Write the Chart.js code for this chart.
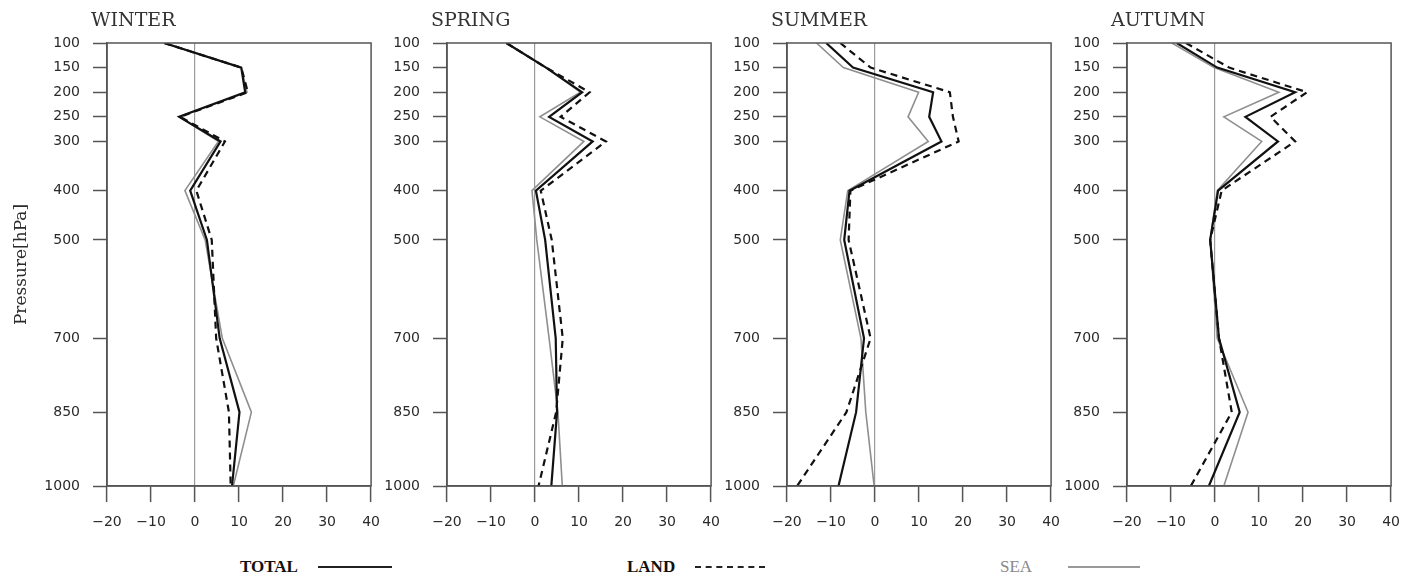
<!DOCTYPE html>
<html>
<head>
<meta charset="utf-8">
<script src="https://cdn.jsdelivr.net/npm/chart.js@4.4.0/dist/chart.umd.min.js"></script>
<style>
  html, body { margin: 0; padding: 0; background: #fff; }
  #wrap { position: relative; width: 1419px; height: 588px; overflow: hidden; background: #fff; }
  canvas.panel { position: absolute; top: 0; }
  .season { position: absolute; top: 7px; line-height: 24px; font-family: "DejaVu Serif", serif; font-size: 19px; color: #333; white-space: nowrap; }
  .lg-text { position: absolute; top: 556px; line-height: 22px; font-family: "Liberation Serif", serif; font-size: 17px; white-space: nowrap; }
  .lg-line { position: absolute; height: 0; }
</style>
</head>
<body>
<div id="wrap">
  <canvas class="panel" id="p0" width="392" height="540" style="left:0px"></canvas>
  <canvas class="panel" id="p1" width="392" height="540" style="left:340px"></canvas>
  <canvas class="panel" id="p2" width="392" height="540" style="left:680px"></canvas>
  <canvas class="panel" id="p3" width="392" height="540" style="left:1020px"></canvas>

  <div class="season" style="left:91px">WINTER</div>
  <div class="season" style="left:431px">SPRING</div>
  <div class="season" style="left:771px">SUMMER</div>
  <div class="season" style="left:1111px">AUTUMN</div>

  <div class="lg-text" style="left:240px;font-weight:bold;color:#111;">TOTAL</div>
  <div class="lg-line" style="left:318px;width:74px;top:566px;border-top:2.5px solid #222;"></div>
  <div class="lg-text" style="left:627px;font-weight:bold;color:#111;">LAND</div>
  <div class="lg-line" style="left:695px;width:70px;top:566px;border-top:2.5px dashed #222;"></div>
  <div class="lg-text" style="left:1000px;color:#888;">SEA</div>
  <div class="lg-line" style="left:1068px;width:72px;top:566px;border-top:2px solid #999;"></div>
</div>

<script>
// Pressure levels (hPa) and axis ticks
const levels = [100, 150, 200, 250, 300, 400, 500, 700, 850, 1000];
const pressureTicks = [100, 150, 200, 250, 300, 400, 500, 700, 850, 1000];
const xTicks = [-20, -10, 0, 10, 20, 30, 40];
const seasons = ['WINTER', 'SPRING', 'SUMMER', 'AUTUMN'];

// Profiles per season, one value per pressure level
const winterTotal = [-7.0, 10.5, 11.4, -3.6, 5.8, -1.1, 2.7, 5.6, 10.1, 8.4];
const winterLand  = [-7.0, 10.5, 12.0, -3.4, 6.8, 0.3, 3.8, 4.8, 7.7, 8.1];
const winterSea   = [-7.0, 10.5, 11.8, -3.6, 5.3, -2.3, 2.3, 6.2, 12.8, 8.7];

const springTotal = [-6.5, 2.5, 10.7, 3.2, 13.1, 0.2, 2.3, 4.7, 5.0, 3.7];
const springLand  = [-6.5, 2.5, 12.4, 5.8, 16.1, 1.3, 3.8, 6.3, 4.8, 0.8];
const springSea   = [-6.5, 2.5, 10.3, 1.1, 11.1, -0.7, 0.4, 3.2, 5.2, 6.2];

const summerTotal = [-11.1, -5.0, 13.2, 12.3, 15.1, -5.8, -7.0, -2.5, -4.3, -8.3];
const summerLand  = [-7.9, -1.0, 17.0, 17.7, 19.0, -5.6, -6.0, -1.0, -6.5, -17.7];
const summerSea   = [-13.3, -7.2, 9.9, 7.5, 12.1, -6.2, -7.9, -3.2, -2.1, -0.2];

const autumnTotal = [-8.7, 0.5, 18.2, 6.9, 14.3, 0.7, -1.1, 0.9, 5.6, -1.4];
const autumnLand  = [-6.6, 3.2, 20.9, 12.6, 18.2, 1.5, -1.1, 0.9, 3.8, -5.5];
const autumnSea   = [-9.8, -0.2, 14.5, 2.0, 10.6, 0.5, -1.1, 0.5, 7.5, 2.0];

const panels = [
  [winterTotal, winterLand, winterSea],
  [springTotal, springLand, springSea],
  [summerTotal, summerLand, summerSea],
  [autumnTotal, autumnLand, autumnSea]
];

const tickFont = { family: '"DejaVu Sans", sans-serif', size: 14 };
const axisColor = '#555';
const labelColor = '#2a2a2a';

// Closed frame around each plot area
const frame = {
  id: 'frame',
  afterDatasetsDraw(chart) {
    const { ctx, chartArea: a } = chart;
    ctx.save();
    ctx.strokeStyle = axisColor;
    ctx.lineWidth = 1.5;
    ctx.strokeRect(a.left, a.top, a.right - a.left, a.bottom - a.top);
    ctx.restore();
  }
};

function profile(values) {
  return values.map((v, i) => ({ x: v, y: levels[i] }));
}

panels.forEach((series, idx) => {
  const [total, land, sea] = series;
  new Chart(document.getElementById('p' + idx), {
    type: 'line',
    data: {
      datasets: [
        { label: 'TOTAL', data: profile(total), borderColor: '#111', borderWidth: 2.2, pointRadius: 0, tension: 0, fill: false },
        { label: 'LAND', data: profile(land), borderColor: '#111', borderWidth: 2.2, borderDash: [7, 5], pointRadius: 0, tension: 0, fill: false },
        { label: 'SEA', data: profile(sea), borderColor: '#8f8f8f', borderWidth: 1.6, pointRadius: 0, tension: 0, fill: false }
      ]
    },
    options: {
      responsive: false,
      animation: false,
      devicePixelRatio: 1,
      layout: { padding: { top: 43, right: 20, left: 0, bottom: 0 } },
      plugins: { legend: { display: false }, tooltip: { enabled: false }, title: { display: false } },
      scales: {
        x: {
          type: 'linear',
          min: -20,
          max: 40,
          afterBuildTicks: s => { s.ticks = xTicks.map(v => ({ value: v })); },
          afterFit: s => { s.height = 54; },
          grid: {
            drawOnChartArea: true,
            color: c => (c.tick && c.tick.value === 0) ? '#999' : 'rgba(0,0,0,0)',
            lineWidth: 1.2,
            tickColor: axisColor,
            tickWidth: 1.5,
            tickLength: 16
          },
          border: { display: true, color: axisColor, width: 1.5 },
          ticks: {
            font: tickFont,
            color: labelColor,
            padding: 12,
            maxRotation: 0,
            autoSkip: false,
            callback: v => (v < 0 ? '\u2212' + Math.abs(v) : String(v))
          }
        },
        y: {
          type: 'linear',
          reverse: true,
          min: 100,
          max: 1000,
          afterBuildTicks: s => { s.ticks = pressureTicks.map(v => ({ value: v })); },
          afterFit: s => { s.width = 107; },
          grid: {
            drawOnChartArea: false,
            color: axisColor,
            tickColor: axisColor,
            tickWidth: 1.5,
            tickLength: 14
          },
          border: { display: true, color: axisColor, width: 1.5 },
          ticks: { font: tickFont, color: labelColor, padding: 13, autoSkip: false, callback: v => String(v) },
          title: {
            display: idx === 0,
            text: 'Pressure[hPa]',
            font: { family: '"DejaVu Serif", serif', size: 17 },
            color: labelColor,
            padding: { top: 11, bottom: 0 }
          }
        }
      }
    },
    plugins: [frame]
  });
});
</script>
</body>
</html>
